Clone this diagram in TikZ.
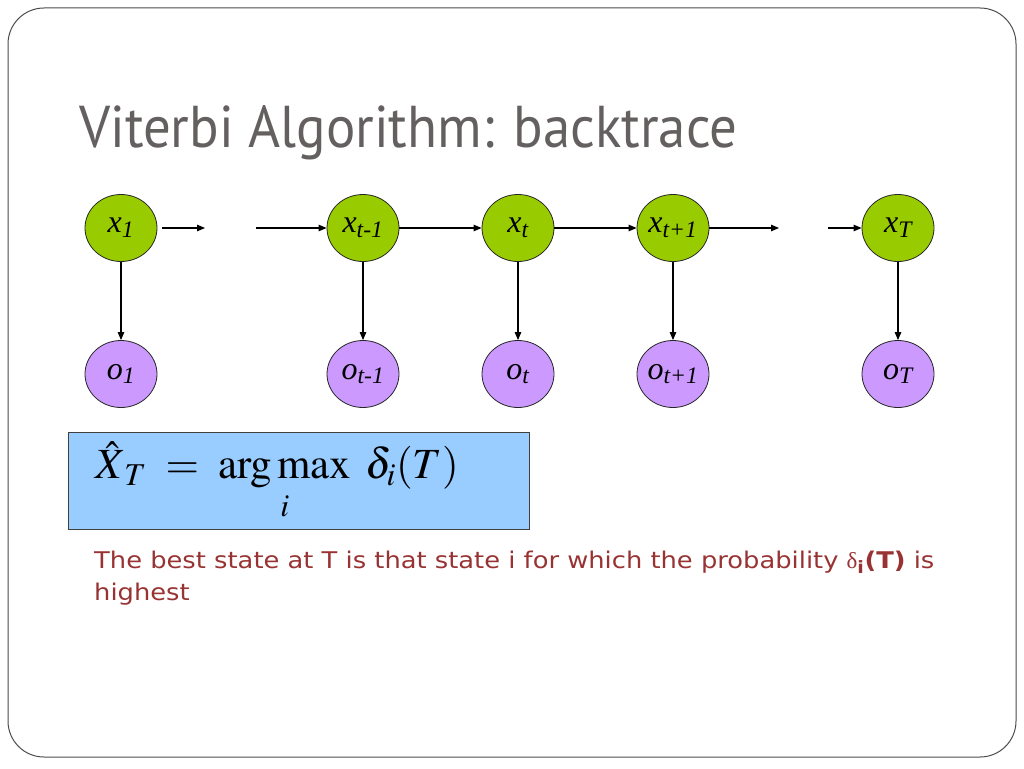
\documentclass[tikz,border=0pt]{standalone}
\usepackage{mathptmx}
\usepackage{fontspec}
\setmainfont{Liberation Serif}
\newfontfamily\titlefont[FakeStretch=0.93]{PT Sans}
\newfontfamily\bodyfont[FakeStretch=1.12]{DejaVu Sans}
\usepackage{amsmath}
\usetikzlibrary{arrows.meta,shapes.geometric}

\definecolor{statecol}{RGB}{153,204,0}
\definecolor{obscol}{RGB}{204,153,255}
\definecolor{boxcol}{RGB}{153,204,255}
\definecolor{textred}{RGB}{153,51,51}
\definecolor{titlegrey}{RGB}{100,96,96}

\tikzset{
  state/.style={ellipse, draw=black!85, line width=0.8pt, fill=statecol, minimum width=72pt, minimum height=67pt, inner sep=0pt, font=\fontsize{32}{32}\selectfont\itshape},
  obs/.style={ellipse, draw=black!85, line width=0.8pt, fill=obscol, minimum width=72pt, minimum height=67pt, inner sep=0pt, font=\fontsize{32}{32}\selectfont\itshape},
  arr/.style={-{Triangle[length=8pt,width=6.5pt]}, line width=1.1pt}
}

\begin{document}
\begin{tikzpicture}[x=1pt,y=-1pt]
    \useasboundingbox (0,0) rectangle (1024,768);
    % Slide frame
    \draw[black!70, line width=1pt, rounded corners=36pt] (8,8) rectangle (1016,757);

    % Title
    \node[anchor=base west, inner sep=0pt, text=titlegrey, font=\titlefont\fontsize{59}{59}\selectfont] (title) at (79,147) {Viterbi Algorithm: backtrace};

    % First row of nodes
    \node[state] (X1) at (121,228) {x\textsubscript{1}};
    \node[state] (Xtm) at (363,228) {x\textsubscript{t-1}};
    \node[state] (Xt) at (518,228) {x\textsubscript{t}};
    \node[state] (Xtp) at (673,228) {x\textsubscript{t+1}};
    \node[state] (XT) at (898,228) {x\textsubscript{T}};

    % Free arrow ends
    \coordinate (gapA) at (205,228);
    \coordinate (gapB) at (256,228);
    \coordinate (gapC) at (779,228);
    \coordinate (gapD) at (828,228);

    % Second row of nodes
    \node[obs] (O1) at (121,374) {o\textsubscript{1}};
    \node[obs] (Otm) at (363,374) {o\textsubscript{t-1}};
    \node[obs] (Ot) at (518,374) {o\textsubscript{t}};
    \node[obs] (Otp) at (673,374) {o\textsubscript{t+1}};
    \node[obs] (OT) at (898,374) {o\textsubscript{T}};

    % Edges between nodes
    \draw[arr, shorten <=5pt] (X1) -- (gapA);
    \draw[arr] (gapB) -- (Xtm);
    \draw[arr] (Xtm) -- (Xt);
    \draw[arr] (Xt) -- (Xtp);
    \draw[arr] (Xtp) -- (gapC);
    \draw[arr] (gapD) -- (XT);

    \draw[arr] (X1) -- (O1);
    \draw[arr] (Xtm) -- (Otm);
    \draw[arr] (Xt) -- (Ot);
    \draw[arr] (Xtp) -- (Otp);
    \draw[arr] (XT) -- (OT);

    % Formula box
    \node[draw=black!75, line width=1.2pt, fill=boxcol, text width=407pt, inner xsep=27pt, inner ysep=0pt,
          minimum height=97pt, align=left, anchor=north west, font=\fontsize{43}{43}\selectfont] (box) at (68,432)
      {$\displaystyle \hat{X}_{\,T} \;=\; \operatorname*{arg\,max}_{i}\; \delta_{i}(T)$};

    % Explanation
    \node[anchor=base west, inner sep=0pt, align=left, text=textred, font=\bodyfont\fontsize{23}{32}\selectfont] (note) at (94,600)
      {The best state at T is that state i for which the probability {\rmfamily δ}\textsubscript{\textbf{i}}\textbf{(T)} is\\highest};
\end{tikzpicture}
\end{document}
